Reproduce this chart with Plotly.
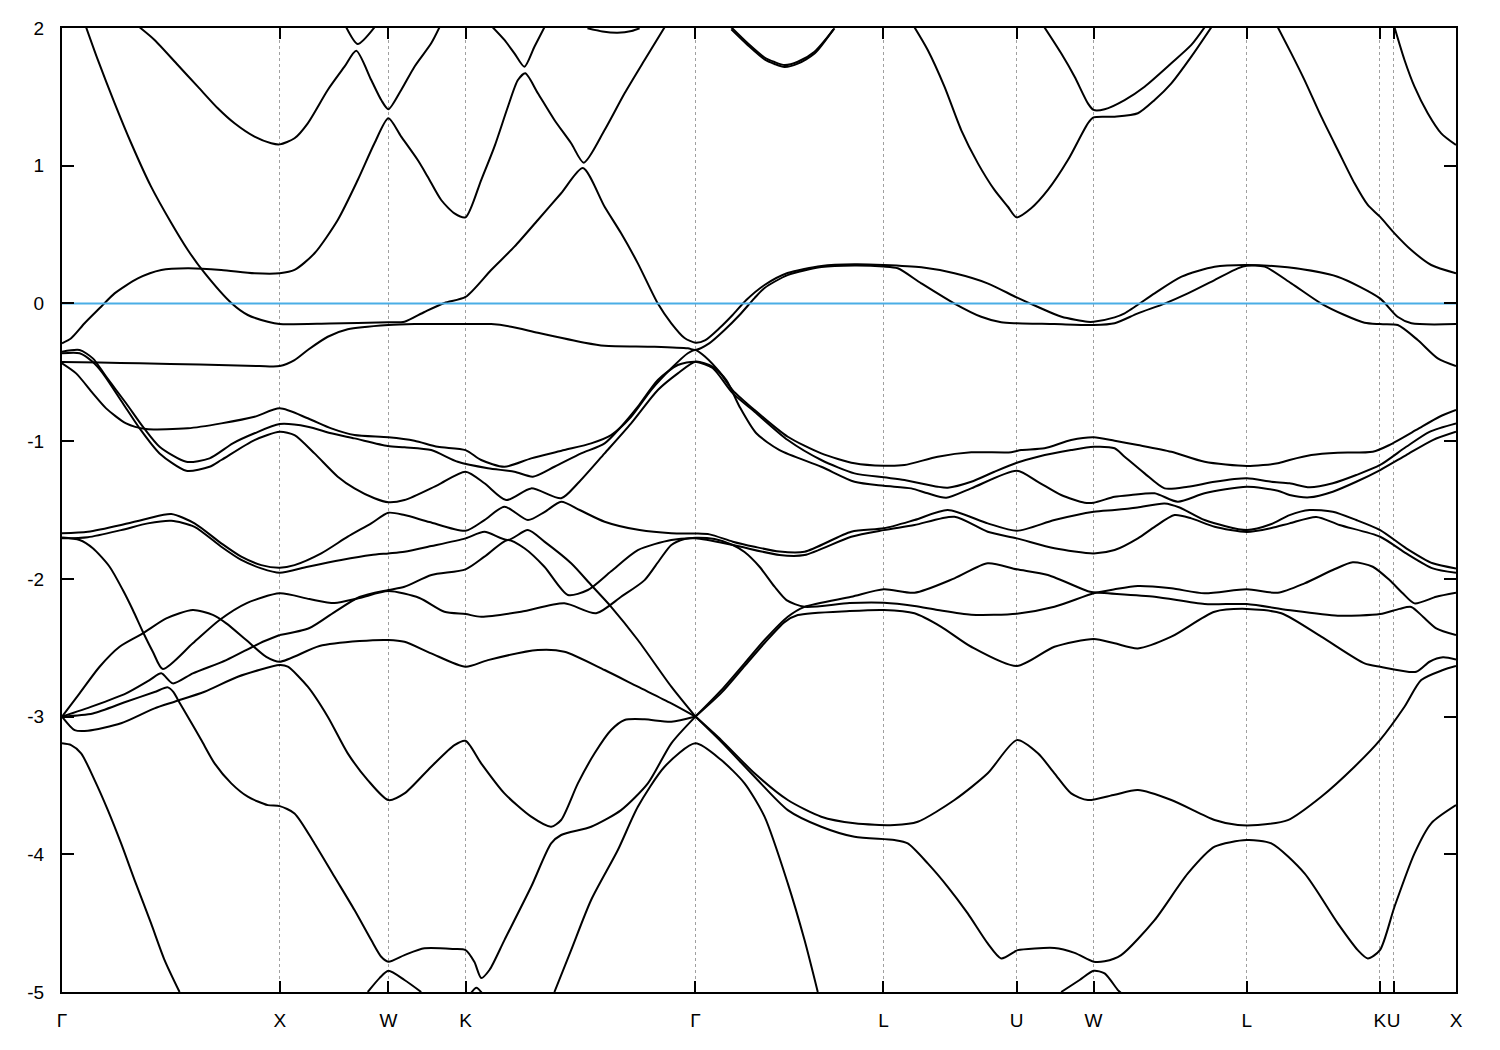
import plotly.graph_objects as go

# ---------------- axis data ----------------
tick_k = [0.0, 1.002, 1.502, 1.857, 2.915, 3.780, 4.393, 4.747, 5.452, 6.065, 6.128, 6.415]
tick_labels = ["Γ", "X", "W", "K", "Γ", "L", "U", "W", "L", "K", "U", "X"]
energy_ticks = [-5, -4, -3, -2, -1, 0, 1, 2]
energy_labels = ["-5", "-4", "-3", "-2", "-1", "0", "1", "2"]
k_max = 6.415
e_min, e_max = -5.0, 2.0
fermi_level = 0.0

# ---------------- band data (k, E) ----------------
band_u1 = [(0.111, 2.005), (0.165, 1.768), (0.242, 1.455), (0.318, 1.165), (0.410, 0.848), (0.503, 0.584),
           (0.579, 0.388), (0.656, 0.221), (0.779, 0.003), (0.855, -0.084), (0.947, -0.133), (1.002, -0.150),
           (1.231, -0.146), (1.502, -0.137), (1.576, -0.133), (1.668, -0.062), (1.760, 0.003), (1.857, 0.047),
           (1.975, 0.243), (2.082, 0.412), (2.190, 0.606), (2.297, 0.800), (2.397, 0.983), (2.497, 0.702),
           (2.573, 0.509), (2.650, 0.291), (2.742, -0.001), (2.804, -0.144), (2.865, -0.251), (2.915, -0.285),
           (2.961, -0.266), (3.026, -0.179), (3.086, -0.084), (3.149, 0.025), (3.233, 0.134), (3.339, 0.221),
           (3.495, 0.272), (3.647, 0.284), (3.780, 0.279), (3.955, 0.262), (4.107, 0.219), (4.259, 0.146),
           (4.393, 0.044), (4.489, -0.024), (4.600, -0.097), (4.719, -0.133), (4.747, -0.133), (4.844, -0.101),
           (4.890, -0.072), (5.028, 0.073), (5.152, 0.194), (5.304, 0.267), (5.452, 0.279), (5.640, 0.262),
           (5.870, 0.194), (6.065, 0.037), (6.146, -0.097), (6.210, -0.144), (6.415, -0.150)]

band_u0 = [(0.0, -0.290), (0.042, -0.253), (0.104, -0.144), (0.180, -0.024), (0.242, 0.073), (0.349, 0.182),
           (0.457, 0.243), (0.579, 0.255), (0.733, 0.243), (0.886, 0.219), (1.002, 0.219), (1.070, 0.243),
           (1.162, 0.364), (1.269, 0.606), (1.361, 0.896), (1.438, 1.163), (1.502, 1.344), (1.561, 1.211),
           (1.637, 1.041), (1.683, 0.920), (1.745, 0.751), (1.806, 0.654), (1.857, 0.625), (1.929, 0.896),
           (1.990, 1.138), (2.052, 1.428), (2.098, 1.622), (2.132, 1.671), (2.190, 1.526), (2.266, 1.332),
           (2.343, 1.163), (2.401, 1.022), (2.497, 1.259), (2.589, 1.526), (2.681, 1.768), (2.773, 2.005)]

band_z2 = [(0.0, -0.426), (0.173, -0.429), (0.357, -0.435), (0.633, -0.444), (0.909, -0.455), (1.002, -0.455),
           (1.070, -0.411), (1.131, -0.338), (1.223, -0.242), (1.315, -0.188), (1.502, -0.157), (1.622, -0.150),
           (1.852, -0.150), (1.975, -0.150), (2.067, -0.169), (2.190, -0.213), (2.405, -0.285), (2.497, -0.307),
           (2.727, -0.314), (2.880, -0.326), (2.915, -0.338), (2.980, -0.288), (3.049, -0.193), (3.118, -0.084),
           (3.187, 0.039), (3.233, 0.112), (3.339, 0.206), (3.495, 0.264), (3.647, 0.275), (3.780, 0.268),
           (3.846, 0.255), (3.954, 0.146), (4.107, -0.001), (4.230, -0.097), (4.322, -0.137), (4.393, -0.144),
           (4.567, -0.150), (4.747, -0.157), (4.844, -0.144), (4.951, -0.072), (5.074, -0.001), (5.181, 0.073),
           (5.304, 0.170), (5.411, 0.255), (5.452, 0.274), (5.534, 0.267), (5.657, 0.146), (5.795, -0.001),
           (5.902, -0.084), (5.994, -0.140), (6.065, -0.150), (6.147, -0.157), (6.239, -0.266), (6.331, -0.399),
           (6.415, -0.455)]

band_m1 = [(0.0, -0.435), (0.065, -0.508), (0.142, -0.653), (0.203, -0.762), (0.295, -0.871), (0.387, -0.912),
           (0.579, -0.907), (0.733, -0.871), (0.886, -0.823), (1.002, -0.762), (1.131, -0.834), (1.239, -0.907),
           (1.346, -0.956), (1.502, -0.972), (1.622, -0.997), (1.729, -1.041), (1.857, -1.065), (1.929, -1.137),
           (2.036, -1.186), (2.159, -1.125), (2.312, -1.065), (2.435, -1.016), (2.527, -0.956), (2.619, -0.823),
           (2.711, -0.629), (2.804, -0.471), (2.880, -0.362), (2.915, -0.338), (2.961, -0.389), (3.026, -0.498),
           (3.086, -0.629), (3.187, -0.774), (3.340, -0.968), (3.494, -1.089), (3.647, -1.161), (3.782, -1.179),
           (3.877, -1.174), (4.030, -1.113), (4.184, -1.081), (4.368, -1.081), (4.414, -1.065), (4.521, -1.052),
           (4.644, -0.992), (4.748, -0.972), (4.844, -0.997), (4.951, -1.028), (5.105, -1.077), (5.258, -1.150),
           (5.452, -1.181), (5.595, -1.161), (5.649, -1.137), (5.749, -1.101), (5.871, -1.084), (6.032, -1.077),
           (6.109, -1.028), (6.232, -0.919), (6.339, -0.823), (6.415, -0.774)]

band_m2 = [(0.0, -0.351), (0.081, -0.338), (0.142, -0.399), (0.203, -0.532), (0.295, -0.725), (0.372, -0.895),
           (0.449, -1.041), (0.572, -1.150), (0.679, -1.125), (0.786, -1.016), (0.886, -0.943), (1.002, -0.876),
           (1.131, -0.895), (1.239, -0.943), (1.346, -0.980), (1.499, -1.035), (1.576, -1.045), (1.699, -1.065),
           (1.821, -1.150), (1.960, -1.197), (2.082, -1.222), (2.167, -1.258), (2.266, -1.186), (2.389, -1.089),
           (2.497, -1.016), (2.573, -0.895), (2.650, -0.750), (2.742, -0.556), (2.834, -0.447), (2.915, -0.423),
           (2.994, -0.469), (3.086, -0.651), (3.187, -0.786), (3.340, -0.992), (3.494, -1.137), (3.647, -1.234),
           (3.782, -1.263), (3.877, -1.282), (4.030, -1.331), (4.076, -1.338), (4.184, -1.295), (4.291, -1.222),
           (4.394, -1.157), (4.491, -1.113), (4.644, -1.065), (4.748, -1.041), (4.844, -1.052), (4.890, -1.113),
           (4.982, -1.234), (5.074, -1.343), (5.181, -1.331), (5.304, -1.295), (5.452, -1.270), (5.565, -1.295),
           (5.649, -1.306), (5.741, -1.335), (5.848, -1.306), (5.956, -1.246), (6.066, -1.173), (6.186, -1.041),
           (6.293, -0.932), (6.415, -0.871)]

band_m3 = [(0.0, -0.362), (0.081, -0.362), (0.142, -0.426), (0.188, -0.508), (0.280, -0.725), (0.357, -0.907),
           (0.449, -1.089), (0.572, -1.215), (0.679, -1.186), (0.733, -1.137), (0.886, -0.992), (1.002, -0.932),
           (1.070, -0.956), (1.162, -1.089), (1.269, -1.258), (1.346, -1.343), (1.438, -1.415), (1.502, -1.444),
           (1.576, -1.428), (1.729, -1.319), (1.857, -1.222), (1.944, -1.306), (2.044, -1.428), (2.159, -1.343),
           (2.297, -1.415), (2.374, -1.306), (2.497, -1.089), (2.619, -0.871), (2.742, -0.629), (2.834, -0.508),
           (2.915, -0.423), (2.995, -0.460), (3.057, -0.556), (3.118, -0.750), (3.195, -0.943), (3.302, -1.065),
           (3.494, -1.186), (3.647, -1.295), (3.782, -1.324), (3.908, -1.343), (3.984, -1.379), (4.069, -1.411),
           (4.184, -1.343), (4.394, -1.215), (4.491, -1.295), (4.598, -1.391), (4.706, -1.447), (4.748, -1.447),
           (4.844, -1.404), (4.920, -1.391), (5.028, -1.379), (5.135, -1.440), (5.258, -1.379), (5.452, -1.331),
           (5.595, -1.360), (5.649, -1.391), (5.741, -1.408), (5.848, -1.367), (5.956, -1.295), (6.066, -1.210),
           (6.186, -1.101), (6.308, -0.992), (6.415, -0.932)]

band_p1 = [(0.0, -1.669), (0.119, -1.658), (0.272, -1.609), (0.395, -1.561), (0.503, -1.529), (0.610, -1.597),
           (0.733, -1.742), (0.825, -1.839), (0.917, -1.900), (1.002, -1.919), (1.070, -1.900), (1.193, -1.815),
           (1.315, -1.694), (1.423, -1.597), (1.502, -1.520), (1.576, -1.537), (1.691, -1.587), (1.857, -1.651),
           (1.944, -1.573), (2.036, -1.476), (2.144, -1.573), (2.220, -1.515), (2.297, -1.440), (2.382, -1.500),
           (2.497, -1.585), (2.658, -1.646), (2.804, -1.669), (2.915, -1.671), (2.980, -1.677), (3.087, -1.730),
           (3.187, -1.767), (3.302, -1.802), (3.417, -1.803), (3.632, -1.658), (3.782, -1.633), (3.923, -1.573),
           (4.076, -1.500), (4.260, -1.597), (4.394, -1.651), (4.567, -1.573), (4.748, -1.513), (4.844, -1.500),
           (4.949, -1.482), (5.074, -1.453), (5.143, -1.482), (5.258, -1.573), (5.452, -1.646), (5.566, -1.602),
           (5.649, -1.537), (5.741, -1.500), (5.848, -1.513), (5.956, -1.573), (6.066, -1.646), (6.186, -1.778),
           (6.308, -1.887), (6.415, -1.924)]

band_v2 = [(0.0, -1.706), (0.119, -1.698), (0.272, -1.646), (0.395, -1.597), (0.503, -1.578), (0.610, -1.622),
           (0.733, -1.767), (0.825, -1.863), (0.917, -1.924), (1.002, -1.956), (1.131, -1.912), (1.285, -1.863),
           (1.423, -1.827), (1.502, -1.815), (1.576, -1.803), (1.700, -1.762), (1.857, -1.706), (1.944, -1.658),
           (2.052, -1.718), (2.144, -1.646), (2.220, -1.730), (2.343, -1.887), (2.435, -2.045), (2.527, -2.203),
           (2.650, -2.444), (2.804, -2.783), (2.915, -3.000)]

band_c = [(1.002, -2.408), (1.139, -2.357), (1.254, -2.241), (1.369, -2.132), (1.502, -2.081), (1.576, -2.057),
          (1.700, -1.972), (1.857, -1.931), (1.944, -1.839), (2.052, -1.718), (2.128, -1.778), (2.220, -1.912),
          (2.328, -2.117), (2.420, -2.081), (2.527, -1.945), (2.650, -1.791), (2.804, -1.718), (2.915, -1.706),
          (3.087, -1.754), (3.302, -1.827), (3.417, -1.827), (3.632, -1.694), (3.782, -1.646), (3.923, -1.609),
          (4.107, -1.549), (4.260, -1.658), (4.394, -1.706), (4.567, -1.778), (4.748, -1.815), (4.844, -1.791),
          (4.951, -1.706), (5.028, -1.622), (5.120, -1.537), (5.197, -1.561), (5.304, -1.622), (5.452, -1.660),
          (5.566, -1.631), (5.649, -1.597), (5.772, -1.550), (5.879, -1.609), (6.066, -1.694), (6.186, -1.815),
          (6.308, -1.924), (6.415, -1.956)]

band_v3 = [(0.0, -1.700), (0.081, -1.718), (0.142, -1.778), (0.219, -1.912), (0.280, -2.081), (0.326, -2.226),
           (0.372, -2.384), (0.418, -2.529), (0.464, -2.655), (0.602, -2.468), (0.725, -2.299), (0.848, -2.178),
           (1.002, -2.105), (1.139, -2.147), (1.254, -2.176), (1.369, -2.139), (1.502, -2.089), (1.645, -2.139),
           (1.760, -2.239), (1.857, -2.256), (1.929, -2.275), (2.113, -2.239), (2.312, -2.178), (2.458, -2.250),
           (2.573, -2.130), (2.681, -2.009), (2.750, -1.863), (2.804, -1.754), (2.865, -1.711), (2.915, -1.701),
           (3.003, -1.711), (3.087, -1.754), (3.141, -1.805), (3.210, -1.912), (3.279, -2.057), (3.334, -2.154),
           (3.417, -2.203), (3.624, -2.176), (3.782, -2.174), (3.923, -2.197), (4.030, -2.226), (4.184, -2.260),
           (4.394, -2.253), (4.567, -2.203), (4.748, -2.105), (4.844, -2.076), (4.951, -2.052), (5.105, -2.069),
           (5.258, -2.105), (5.452, -2.076), (5.595, -2.101), (5.718, -2.033), (5.848, -1.936), (5.940, -1.880),
           (6.032, -1.912), (6.109, -2.009), (6.170, -2.105), (6.224, -2.178), (6.324, -2.130), (6.415, -2.101)]

band_r1 = [(2.915, -3.000), (3.035, -2.807), (3.141, -2.614), (3.233, -2.444), (3.340, -2.275), (3.417, -2.203),
           (3.632, -2.130), (3.782, -2.076), (3.923, -2.101), (4.107, -1.996), (4.260, -1.887), (4.394, -1.931),
           (4.537, -1.972), (4.721, -2.090), (4.748, -2.097), (5.028, -2.130), (5.258, -2.183), (5.452, -2.183),
           (5.641, -2.226), (5.871, -2.268), (6.066, -2.256), (6.155, -2.218), (6.209, -2.204), (6.263, -2.275),
           (6.324, -2.359), (6.415, -2.408)]

band_r3 = [(2.915, -3.000), (3.035, -2.826), (3.141, -2.633), (3.233, -2.466), (3.325, -2.314), (3.386, -2.263),
           (3.624, -2.234), (3.782, -2.226), (3.923, -2.250), (4.046, -2.348), (4.184, -2.493), (4.394, -2.633),
           (4.567, -2.493), (4.748, -2.436), (4.844, -2.468), (4.951, -2.505), (5.105, -2.420), (5.304, -2.239),
           (5.452, -2.218), (5.611, -2.250), (5.795, -2.420), (5.994, -2.614), (6.066, -2.638), (6.232, -2.675),
           (6.293, -2.602), (6.355, -2.570), (6.415, -2.586)]

band_s1 = [(2.915, -3.000), (3.034, -3.171), (3.187, -3.412), (3.340, -3.606), (3.494, -3.727), (3.647, -3.775),
           (3.831, -3.788), (3.938, -3.764), (4.107, -3.606), (4.260, -3.412), (4.394, -3.171), (4.491, -3.267),
           (4.567, -3.412), (4.644, -3.558), (4.721, -3.606), (4.844, -3.567), (4.951, -3.534), (5.105, -3.606),
           (5.304, -3.751), (5.411, -3.788), (5.503, -3.788), (5.641, -3.752), (5.795, -3.582), (5.948, -3.364),
           (6.065, -3.171), (6.178, -2.929), (6.255, -2.735), (6.355, -2.662), (6.415, -2.633)]

band_s2 = [(2.915, -3.000), (3.035, -3.185), (3.187, -3.437), (3.340, -3.679), (3.494, -3.800), (3.647, -3.873),
           (3.831, -3.897), (3.892, -3.921), (3.984, -4.066), (4.076, -4.236), (4.168, -4.429), (4.260, -4.647),
           (4.322, -4.756), (4.383, -4.708), (4.398, -4.696), (4.567, -4.680), (4.660, -4.716), (4.748, -4.780),
           (4.798, -4.777), (4.874, -4.732), (5.028, -4.478), (5.181, -4.139), (5.304, -3.945), (5.452, -3.897),
           (5.565, -3.921), (5.718, -4.139), (5.871, -4.502), (5.963, -4.696), (6.009, -4.756), (6.065, -4.696),
           (6.132, -4.381), (6.224, -3.993), (6.301, -3.775), (6.415, -3.643)]

band_s3 = [(4.598, -5.000), (4.683, -4.913), (4.748, -4.846), (4.798, -4.865), (4.859, -4.986), (4.876, -5.010)]

band_h = [(1.407, -5.000), (1.461, -4.899), (1.502, -4.846), (1.576, -4.913), (1.653, -5.000)]

band_kb = [(1.876, -5.020), (1.907, -4.970), (1.939, -5.020)]

band_i = [(2.266, -5.000), (2.343, -4.696), (2.435, -4.332), (2.558, -3.969), (2.650, -3.655), (2.773, -3.364),
          (2.915, -3.194), (3.034, -3.316), (3.141, -3.485), (3.233, -3.727), (3.340, -4.211), (3.417, -4.623),
          (3.478, -5.000)]

band_g5 = [(0.0, -3.194), (0.042, -3.207), (0.088, -3.267), (0.150, -3.461), (0.211, -3.679), (0.272, -3.921),
           (0.334, -4.187), (0.410, -4.502), (0.472, -4.768), (0.541, -5.000)]

band_g1 = [(0.0, -3.000), (0.081, -2.831), (0.173, -2.638), (0.265, -2.493), (0.372, -2.396), (0.480, -2.287),
           (0.602, -2.226), (0.694, -2.262), (0.756, -2.323), (0.848, -2.444), (0.940, -2.566), (1.002, -2.602),
           (1.185, -2.488), (1.369, -2.452), (1.502, -2.444), (1.576, -2.457), (1.699, -2.541), (1.857, -2.638),
           (1.960, -2.590), (2.190, -2.517), (2.312, -2.529), (2.497, -2.662), (2.650, -2.783), (2.804, -2.904),
           (2.915, -3.000)]

band_g2 = [(0.0, -3.000), (0.142, -2.924), (0.295, -2.831), (0.403, -2.735), (0.457, -2.686), (0.510, -2.759),
           (0.602, -2.686), (0.756, -2.590), (0.909, -2.468), (1.002, -2.408)]

band_g3 = [(0.0, -3.000), (0.142, -2.977), (0.295, -2.892), (0.426, -2.822), (0.487, -2.788), (0.513, -2.822),
           (0.533, -2.877), (0.579, -3.001), (0.641, -3.171), (0.702, -3.340), (0.779, -3.485), (0.855, -3.582),
           (0.947, -3.643), (1.002, -3.650), (1.070, -3.703), (1.162, -3.921), (1.254, -4.163), (1.346, -4.405),
           (1.423, -4.623), (1.469, -4.744), (1.502, -4.780), (1.576, -4.732), (1.668, -4.683), (1.806, -4.688),
           (1.857, -4.696), (1.898, -4.783), (1.929, -4.898), (1.967, -4.840), (2.036, -4.623), (2.159, -4.236),
           (2.251, -3.921), (2.297, -3.860), (2.435, -3.800), (2.573, -3.679), (2.696, -3.485), (2.804, -3.194),
           (2.915, -3.000)]

band_g4 = [(0.0, -3.000), (0.058, -3.098), (0.119, -3.103), (0.272, -3.049), (0.426, -2.940), (0.518, -2.892),
           (0.656, -2.820), (0.809, -2.711), (1.002, -2.626), (1.039, -2.638), (1.131, -2.783), (1.223, -3.001),
           (1.315, -3.267), (1.407, -3.461), (1.502, -3.606), (1.576, -3.558), (1.699, -3.364), (1.806, -3.207),
           (1.857, -3.176), (1.929, -3.340), (2.036, -3.558), (2.159, -3.727), (2.251, -3.800), (2.297, -3.751),
           (2.374, -3.485), (2.451, -3.267), (2.527, -3.098), (2.589, -3.025), (2.681, -3.020), (2.804, -3.038),
           (2.915, -3.000)]

band_y1 = [(1.982, 2.005), (2.036, 1.913), (2.082, 1.816), (2.128, 1.719), (2.174, 1.864), (2.220, 2.005)]
band_y2 = [(2.418, 1.998), (2.487, 1.975), (2.556, 1.966), (2.621, 1.978), (2.658, 1.998)]
band_y3a = [(3.080, 2.005), (3.156, 1.889), (3.233, 1.786), (3.279, 1.753), (3.325, 1.731), (3.386, 1.755),
            (3.463, 1.828), (3.555, 1.998)]
band_y3b = [(3.080, 1.990), (3.156, 1.875), (3.233, 1.772), (3.279, 1.739), (3.325, 1.717), (3.386, 1.741),
            (3.463, 1.814), (3.550, 1.990)]
band_y4 = [(0.357, 2.005), (0.426, 1.913), (0.533, 1.731), (0.625, 1.574), (0.717, 1.417), (0.794, 1.308),
           (0.886, 1.211), (0.963, 1.163), (1.002, 1.155), (1.070, 1.199), (1.131, 1.308), (1.223, 1.550),
           (1.300, 1.719), (1.354, 1.835), (1.423, 1.622), (1.469, 1.477), (1.502, 1.410), (1.561, 1.550),
           (1.622, 1.719), (1.699, 1.889), (1.737, 2.005)]
band_y5 = [(1.308, 2.005), (1.361, 1.884), (1.438, 2.005)]
band_y6 = [(3.923, 2.005), (3.984, 1.840), (4.061, 1.574), (4.138, 1.259), (4.215, 1.017), (4.291, 0.824),
           (4.353, 0.702), (4.393, 0.625), (4.460, 0.691), (4.537, 0.824), (4.629, 1.041), (4.721, 1.308),
           (4.747, 1.351), (4.844, 1.356), (4.951, 1.381), (5.028, 1.477), (5.105, 1.598), (5.197, 1.792),
           (5.289, 2.005)]
band_y7 = [(4.521, 2.005), (4.598, 1.816), (4.660, 1.646), (4.721, 1.453), (4.747, 1.405), (4.798, 1.410),
           (4.890, 1.477), (4.982, 1.574), (5.105, 1.744), (5.197, 1.877), (5.258, 2.005)]
band_y8 = [(5.595, 2.005), (5.657, 1.816), (5.718, 1.622), (5.795, 1.356), (5.871, 1.114), (5.948, 0.872),
           (6.009, 0.715), (6.065, 0.630), (6.132, 0.509), (6.209, 0.388), (6.301, 0.279), (6.415, 0.219)]
band_y9 = [(6.132, 2.005), (6.178, 1.768), (6.224, 1.574), (6.285, 1.381), (6.347, 1.235), (6.415, 1.150)]

bands = [band_u1, band_u0, band_z2, band_m1, band_m2, band_m3, band_p1, band_v2, band_c, band_v3,
         band_r1, band_r3, band_s1, band_s2, band_s3, band_h, band_kb, band_i, band_g5, band_g1, band_g2,
         band_g3, band_g4, band_y1, band_y2, band_y3a, band_y3b, band_y4, band_y5, band_y6, band_y7,
         band_y8, band_y9]

fig = go.Figure()
for b in bands:
    fig.add_trace(go.Scatter(
        x=[p[0] for p in b], y=[p[1] for p in b], mode="lines",
        line=dict(color="black", width=2, shape="spline", smoothing=0.7),
        hoverinfo="skip", showlegend=False))

fig.add_trace(go.Scatter(x=[0, k_max], y=[fermi_level, fermi_level], mode="lines",
                         line=dict(color="#4aaee6", width=2), hoverinfo="skip", showlegend=False))

font_family = "Liberation Sans, Arial, sans-serif"
fig.update_layout(
    width=1492, height=1042,
    margin=dict(l=54, r=44, t=20, b=58, pad=0),
    paper_bgcolor="white", plot_bgcolor="white",
    font=dict(family=font_family, size=19, color="black"),
    xaxis=dict(range=[0, k_max], tickmode="array", tickvals=tick_k, ticktext=tick_labels,
               tickangle=0, automargin=False,
               ticks="inside", ticklen=11, tickwidth=1.5, tickcolor="black",
               showline=True, linecolor="black", linewidth=2, mirror="ticks",
               showgrid=True, gridcolor="#a0a0a0", gridwidth=1, griddash="dot",
               zeroline=False, ticklabelstandoff=10, fixedrange=True),
    yaxis=dict(range=[e_min, e_max], tickmode="array", tickvals=energy_ticks, ticktext=energy_labels,
               automargin=False,
               ticks="inside", ticklen=12, tickwidth=1.5, tickcolor="black",
               showline=True, linecolor="black", linewidth=2, mirror="ticks",
               showgrid=False, zeroline=False, ticklabelstandoff=12, fixedrange=True),
)

fig.write_html("out.html")
